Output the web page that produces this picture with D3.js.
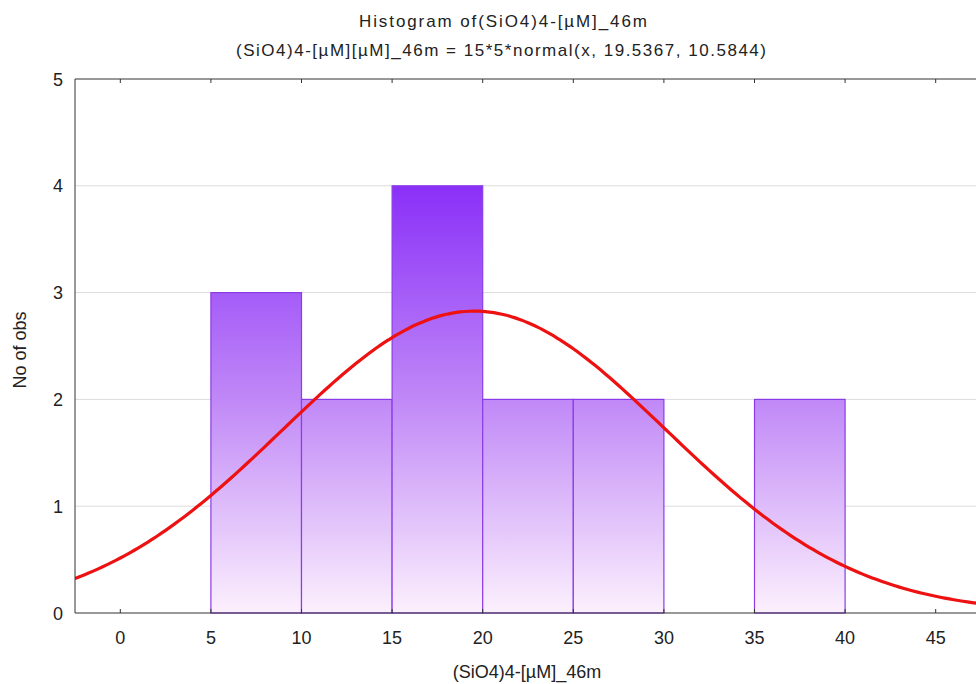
<!DOCTYPE html>
<html><head><meta charset="utf-8">
<script src="https://cdn.jsdelivr.net/npm/d3@7"></script>
<style>body{margin:0;background:#fff;} svg{display:block;font-family:Arial,"Liberation Sans",sans-serif;}</style>
</head><body>
<svg id="c" width="976" height="684"></svg>
<script>
const binStarts = [5, 10, 15, 20, 25, 30, 35];
const binWidth = 5;
const counts = [3, 2, 4, 2, 2, 0, 2];
const xTicks = [0, 5, 10, 15, 20, 25, 30, 35, 40, 45];
const yTicks = [0, 1, 2, 3, 4, 5];
const nObs = 15, mu = 19.5367, sigma = 10.5844;
const title = "Histogram of(SiO4)4-[µM]_46m";
const subtitle = "(SiO4)4-[µM][µM]_46m = 15*5*normal(x, 19.5367, 10.5844)";
const xLabel = "(SiO4)4-[µM]_46m";
const yLabel = "No of obs";

const svg = d3.select("#c");
const L = 75, R = 981, T = 79, B = 613;
const x = d3.scaleLinear().domain([-2.5, 47.5]).range([L, R]);
const y = d3.scaleLinear().domain([0, 5]).range([B, T]);

const defs = svg.append("defs");
const g = defs.append("linearGradient").attr("id","bg").attr("gradientUnits","userSpaceOnUse")
  .attr("x1",0).attr("x2",0).attr("y1",y(0)).attr("y2",y(4));
g.append("stop").attr("offset","0%").attr("stop-color","#fcf0fd");
g.append("stop").attr("offset","50%").attr("stop-color","#c088f7");
g.append("stop").attr("offset","100%").attr("stop-color","#8a30f8");
defs.append("clipPath").attr("id","clip").append("rect").attr("x",L).attr("y",T).attr("width",R-L).attr("height",B-T);

// grid
svg.append("g").selectAll("line").data(yTicks.filter(d=>d>0 && d<5)).join("line")
  .attr("x1",L).attr("x2",R).attr("y1",d=>y(d)).attr("y2",d=>y(d))
  .attr("stroke","#dcdcdc").attr("stroke-width",1);

// bars
svg.append("g").selectAll("rect").data(binStarts.map((s,i)=>({s,c:counts[i]})).filter(d=>d.c>0)).join("rect")
  .attr("x",d=>x(d.s)).attr("width",d=>x(d.s+binWidth)-x(d.s))
  .attr("y",d=>y(d.c)).attr("height",d=>y(0)-y(d.c))
  .attr("fill","url(#bg)").attr("stroke","#8a3ce6").attr("stroke-width",1.2);

// normal curve
const pts = d3.range(-2.5, 47.51, 0.25).map(v=>[v, nObs*binWidth*Math.exp(-((v-mu)**2)/(2*sigma*sigma))/(sigma*Math.sqrt(2*Math.PI))]);
svg.append("path").attr("clip-path","url(#clip)").datum(pts)
  .attr("d", d3.line().x(d=>x(d[0])).y(d=>y(d[1])).curve(d3.curveBasis))
  .attr("fill","none").attr("stroke","#ee1111").attr("stroke-width",3.2);

// axes
const ax = svg.append("g").attr("stroke","#333");
ax.append("line").attr("x1",L).attr("x2",R).attr("y1",B).attr("y2",B);
ax.append("line").attr("x1",L).attr("x2",R).attr("y1",T).attr("y2",T);
ax.append("line").attr("x1",L).attr("x2",L).attr("y1",T).attr("y2",B);
ax.selectAll(".bt").data(xTicks).join("line").attr("x1",d=>x(d)).attr("x2",d=>x(d)).attr("y1",B).attr("y2",B-4);
ax.selectAll(".tt").data(xTicks).join("line").attr("x1",d=>x(d)).attr("x2",d=>x(d)).attr("y1",T).attr("y2",T+4);

svg.append("g").selectAll("text").data(xTicks).join("text")
  .attr("x",d=>x(d)).attr("y",644).attr("text-anchor","middle").attr("font-size",18).attr("fill","#222").text(d=>d);
svg.append("g").selectAll("text").data(yTicks).join("text")
  .attr("x",63).attr("y",d=>y(d)+6.5).attr("text-anchor","end").attr("font-size",18).attr("fill","#222").text(d=>d);

svg.append("text").attr("x",503).attr("y",27).attr("text-anchor","middle").attr("font-size",17)
  .attr("font-family","'Liberation Sans Narrow','Arial Narrow',Arial,sans-serif")
  .attr("textLength",288).attr("lengthAdjust","spacing").attr("fill","#222").text(title);
svg.append("text").attr("x",501).attr("y",56).attr("text-anchor","middle").attr("font-size",17)
  .attr("font-family","'Liberation Sans Narrow','Arial Narrow',Arial,sans-serif")
  .attr("textLength",530).attr("lengthAdjust","spacing").attr("fill","#222").text(subtitle);
svg.append("text").attr("x",527).attr("y",678).attr("text-anchor","middle").attr("font-size",18)
  .attr("fill","#222").text(xLabel);
svg.append("text").attr("transform","translate(26,350) rotate(-90)").attr("text-anchor","middle").attr("font-size",18)
  .attr("fill","#222").text(yLabel);
</script>
</body></html>
